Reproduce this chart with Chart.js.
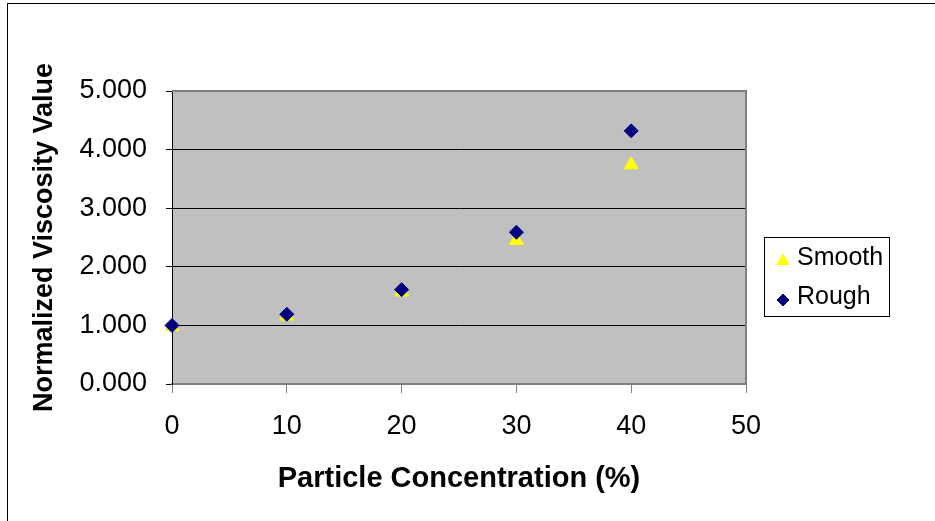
<!DOCTYPE html>
<html>
<head>
<meta charset="utf-8">
<script src="https://cdn.jsdelivr.net/npm/chart.js@4/dist/chart.umd.min.js"></script>
<style>
  html, body { margin: 0; padding: 0; background: #fff; }
  #wrap { width: 935px; height: 521px; }
</style>
</head>
<body>
<div id="wrap"><canvas id="visc"></canvas></div>
<script>
// concentration (%) on x, normalized viscosity on y
const concentration = [0, 10, 20, 30, 40];
const smoothVals = [0.98, 1.16, 1.57, 2.45, 3.74];
const roughVals = [1.00, 1.19, 1.61, 2.59, 4.32];
const xTicks = [0, 10, 20, 30, 40, 50];
const yTicks = [0, 1, 2, 3, 4, 5];

const FONT = "Arial, 'Liberation Sans', sans-serif";

function toPoints(xs, ys) {
    return xs.map((x, i) => ({x: x, y: ys[i]}));
}

// gray plot background, outer frame and right border of plot
const frame = {
    id: 'frame',
    beforeDraw(chart) {
        const c = chart.ctx, a = chart.chartArea;
        c.save();
        c.fillStyle = '#fff';
        c.fillRect(0, 0, chart.width, chart.height);
        c.strokeStyle = '#000';
        c.lineWidth = 1;
        c.strokeRect(7.5, 3.5, chart.width + 10, chart.height + 10);
        c.fillStyle = '#c0c0c0';
        c.fillRect(a.left, a.top, a.right - a.left, a.bottom - a.top);
        c.restore();
    },
    afterDatasetsDraw(chart) {
        const c = chart.ctx, a = chart.chartArea;
        c.save();
        c.strokeStyle = '#808080';
        c.lineWidth = 2;
        c.beginPath();
        c.moveTo(a.left, a.top);
        c.lineTo(a.right, a.top);
        c.lineTo(a.right, a.bottom);
        c.stroke();
        c.restore();
    }
};

// boxed legend like the old excel one
const boxLegend = {
    id: 'boxLegend',
    afterDraw(chart) {
        const c = chart.ctx, a = chart.chartArea;
        const x0 = a.right + 18, y0 = 237, w = 125, h = 79;
        c.save();
        c.fillStyle = '#fff';
        c.fillRect(x0, y0, w, h);
        c.strokeStyle = '#000';
        c.lineWidth = 1;
        c.strokeRect(x0 + 0.5, y0 + 0.5, w, h);
        c.font = '25px ' + FONT;
        c.textBaseline = 'middle';
        const order = [0, 1];
        order.forEach((di, k) => {
            const ds = chart.data.datasets[di];
            const cy = y0 + 21 + k * 39;
            c.fillStyle = ds.backgroundColor;
            c.strokeStyle = ds.backgroundColor;
            Chart.helpers.drawPoint(c, {
                pointStyle: ds.pointStyle,
                radius: ds.pointStyle === 'triangle' ? 7 : 6,
                borderWidth: 1
            }, x0 + 19, cy + 3);
            c.fillStyle = '#000';
            c.fillText(ds.label, x0 + 33, cy);
        });
        c.restore();
    }
};

const config = {
    type: 'scatter',
    data: {
        datasets: [{
            label: 'Smooth',
            data: toPoints(concentration, smoothVals),
            pointStyle: 'triangle',
            pointRadius: 8,
            pointHoverRadius: 8,
            backgroundColor: '#ffff00',
            borderColor: '#ffff00',
            borderWidth: 1,
            clip: false,
            order: 1
        }, {
            label: 'Rough',
            data: toPoints(concentration, roughVals),
            pointStyle: 'rectRot',
            pointRadius: 7,
            pointHoverRadius: 7,
            backgroundColor: '#000080',
            borderColor: '#000080',
            borderWidth: 1,
            clip: false,
            order: 0
        }]
    },
    options: {
        responsive: true,
        maintainAspectRatio: false,
        animation: false,
        layout: { padding: { top: 91, right: 189, left: 0, bottom: 0 } },
        plugins: {
            legend: { display: false },
            tooltip: { enabled: false }
        },
        scales: {
            x: {
                type: 'linear',
                min: 0,
                max: 50,
                afterBuildTicks: (s) => { s.ticks = xTicks.map(v => ({value: v})); },
                afterFit: (s) => { s.height = 137; },
                grid: {
                    drawOnChartArea: false,
                    drawTicks: true,
                    tickLength: 9,
                    tickColor: '#808080'
                },
                border: { color: '#808080', width: 2 },
                ticks: {
                    color: '#000',
                    padding: 17,
                    font: { family: FONT, size: 27 }
                },
                title: {
                    display: true,
                    text: 'Particle Concentration (%)',
                    color: '#000',
                    font: { family: FONT, size: 29, weight: 'bold' },
                    padding: { top: 0, bottom: 25 }
                }
            },
            y: {
                min: 0,
                max: 5,
                afterBuildTicks: (s) => { s.ticks = yTicks.map(v => ({value: v})); },
                afterFit: (s) => { s.width = 172; },
                grid: {
                    color: (ctx) => ctx.tick && ctx.tick.value === 5 ? 'rgba(0,0,0,0)' : '#000',
                    tickColor: '#000',
                    tickLength: 6,
                    lineWidth: 1
                },
                border: { color: '#000', width: 1 },
                ticks: {
                    color: '#000',
                    padding: 19,
                    font: { family: FONT, size: 27 },
                    callback: (v) => Number(v).toFixed(3)
                },
                title: {
                    display: true,
                    text: 'Normalized Viscosity Value',
                    color: '#000',
                    font: { family: FONT, size: 27, weight: 'bold' },
                    padding: { top: 28, bottom: 0 }
                }
            }
        }
    },
    plugins: [frame, boxLegend]
};

const viscChart = new Chart(document.getElementById('visc'), config);
</script>
</body>
</html>
